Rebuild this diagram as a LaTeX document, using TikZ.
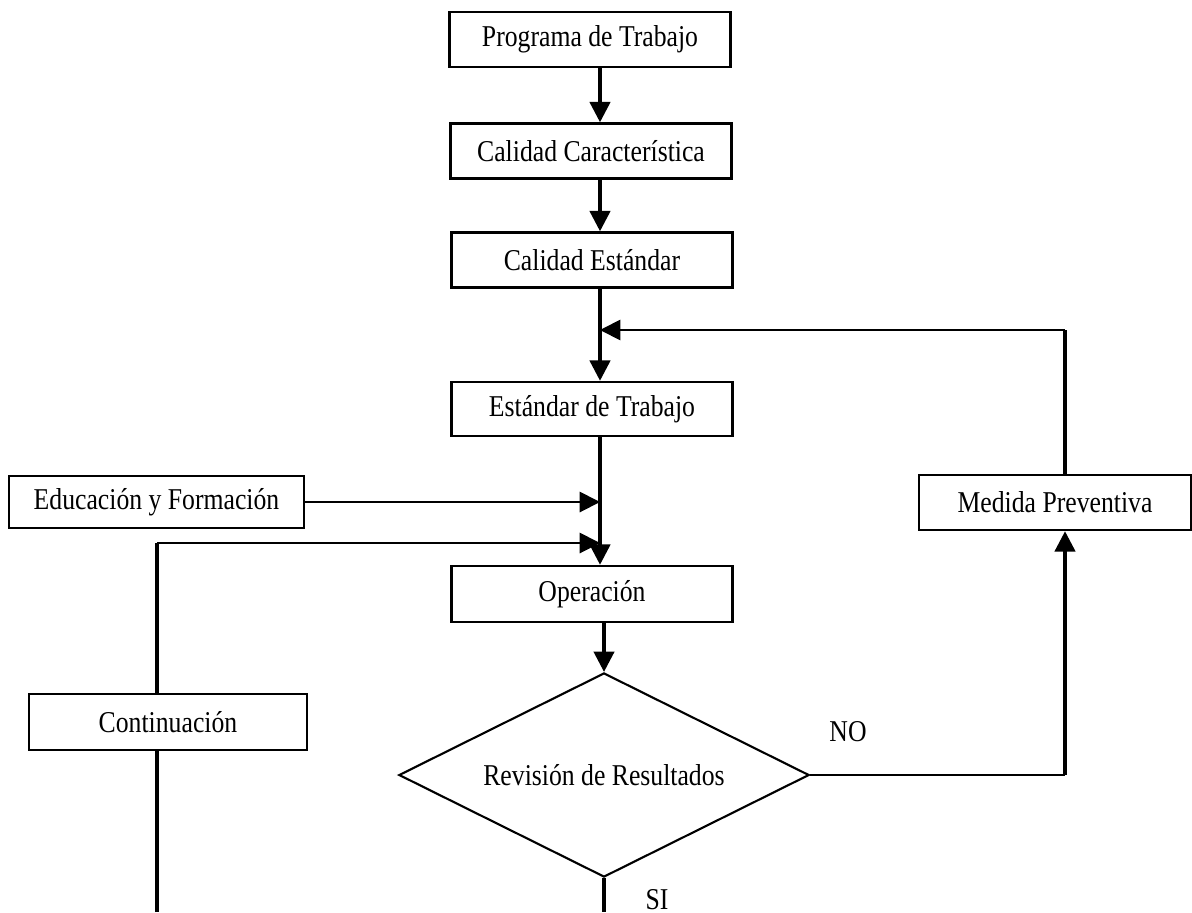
\documentclass[tikz,border=0pt]{standalone}
\usepackage{fontspec}
\setmainfont{Liberation Serif}[FakeStretch=0.85]
\usetikzlibrary{arrows.meta,shapes.geometric}

\tikzset{
  box/.style={draw, line width=0.7pt, minimum width=2.81cm, minimum height=0.55cm, inner sep=0pt},
  rev/.style={draw, diamond, line width=0.6pt, minimum width=4.1cm, minimum height=2.04cm, inner sep=0pt, aspect=2},
  main/.style={line width=0.95pt},
  thin/.style={line width=0.55pt},
  tip/.style={-{Triangle[length=5.8pt,width=5.8pt]}}
}

\begin{document}
\begin{tikzpicture}[x=0.01cm,y=-0.01cm,every node/.style={font=\fontsize{8.6}{10}\selectfont}]
\useasboundingbox (0,0) rectangle (1192,912);

% Main column
\node[box] (prog) at (590,39.5) {Programa de Trabajo};
\node[box] (carac) at (591,151) {Calidad Característica};
\node[box] (calest) at (592,260) {Calidad Estándar};
\node[box, minimum height=0.54cm] (esttrab) at (592,409) {Estándar de Trabajo};
\node[box, minimum height=0.56cm] (oper) at (592,594) {Operación};
\node[rev] (revis) at (604,775) {Revisión de Resultados};

% Side boxes
\node[box, minimum width=2.95cm, minimum height=0.52cm] (educ) at (156.5,502) {Educación y Formación};
\node[box, minimum width=2.78cm, minimum height=0.56cm] (cont) at (168,722) {Continuación};
\node[box, minimum width=2.72cm] (medida) at (1055,502.5) {Medida Preventiva};

% Labels
\node (no) at (848,732) {NO};
\node (si) at (657,900) {SI};

% Points on the lines
\coordinate (ax) at (600,0);
\coordinate (fb) at (1065,330);
\coordinate (cx) at (157,543);
\coordinate (cbot) at (157,912);
\coordinate (sibot) at (604,912);

% Arrows down the column
\draw[main,tip] (prog.south -| ax) -- (carac.north -| ax);
\draw[main,tip] (carac.south -| ax) -- (calest.north -| ax);
\draw[main,tip] (calest.south -| ax) -- (esttrab.north -| ax);
\draw[main,tip] (esttrab.south -| ax) -- (oper.north -| ax);
\draw[main,tip] (oper.south -| revis.north) -- (revis.north);
\draw[main] (revis.south) -- (sibot);

% Feedback from Medida Preventiva
\draw[main] (medida.north -| fb) -- (fb);
\draw[thin,tip] (fb) -- (fb -| ax);
\draw[thin] (revis.east) -- (revis.east -| fb);
\draw[main,tip] (revis.east -| fb) -- (medida.south -| fb);

% Inputs to Operacion
\draw[thin,tip] (educ.east) -- (educ.east -| ax);
\draw[main] (cbot) -- (cont.south -| cx);
\draw[main] (cont.north -| cx) -- (cx);
\draw[thin,tip] (cx) -- (cx -| ax);

\end{tikzpicture}
\end{document}
